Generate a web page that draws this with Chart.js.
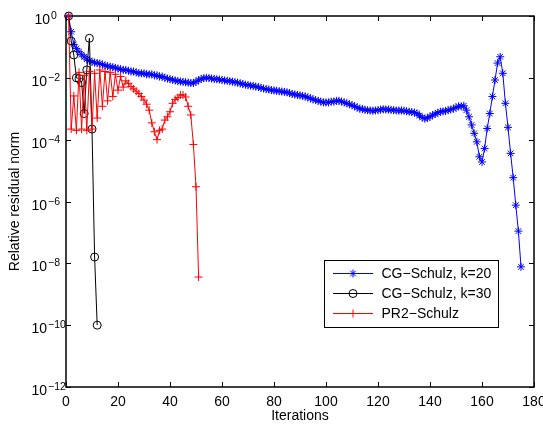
<!DOCTYPE html>
<html><head><meta charset="utf-8">
<script src="https://cdn.jsdelivr.net/npm/chart.js@4/dist/chart.umd.min.js"></script>
<style>html,body{margin:0;padding:0;background:#fff;overflow:hidden}</style>
</head><body>
<canvas id="c" width="543" height="427" style="display:block;width:543px;height:427px"></canvas>
<script>
// ---- data ----
const seriesLabels = ['CG\u2212Schulz, k=20', 'CG\u2212Schulz, k=30', 'PR2\u2212Schulz'];

const blueValues = [
  1, 0.31, 0.12, 0.088, 0.07, 0.056, 0.048, 0.04, 0.036, 0.033,
  0.031, 0.03, 0.029, 0.027, 0.025, 0.024, 0.023, 0.022, 0.021, 0.02,
  0.019, 0.018, 0.018, 0.017, 0.016, 0.016, 0.015, 0.014, 0.014, 0.014,
  0.013, 0.013, 0.013, 0.012, 0.012, 0.011, 0.011, 0.010, 0.0095, 0.009,
  0.0086, 0.0082, 0.0078, 0.0076, 0.0074, 0.0072, 0.007, 0.0068, 0.0068, 0.0075,
  0.0085, 0.0092, 0.0098, 0.01, 0.0098, 0.0095, 0.0092, 0.009, 0.0088, 0.0085,
  0.0082, 0.008, 0.0078, 0.0075, 0.0072, 0.007, 0.0066, 0.0063, 0.006, 0.0058,
  0.0056, 0.0055, 0.0052, 0.005, 0.0047, 0.0045, 0.0043, 0.0042, 0.004, 0.0039,
  0.0038, 0.0037, 0.0036, 0.0035, 0.0034, 0.0032, 0.003, 0.0029, 0.0028, 0.0027,
  0.0026, 0.0025, 0.0023, 0.0022, 0.002, 0.0019, 0.0018, 0.0017, 0.0016, 0.0016,
  0.0016, 0.0017, 0.0017, 0.0018, 0.0018, 0.0017, 0.0016, 0.0015, 0.0014, 0.0013,
  0.0012, 0.0011, 0.001, 0.00098, 0.00092, 0.0009, 0.00088, 0.00086, 0.00088, 0.0009,
  0.00094, 0.00096, 0.00095, 0.00094, 0.00092, 0.0009, 0.00088, 0.00087, 0.00088, 0.00086,
  0.00083, 0.0008, 0.00078, 0.00075, 0.0007, 0.0006, 0.00052, 0.00048, 0.0005, 0.00056,
  0.00062, 0.00068, 0.00074, 0.0008, 0.00082, 0.00085, 0.0009, 0.00095, 0.001, 0.0011,
  0.0012, 0.0012, 0.00125, 0.0009, 0.00055, 0.0003, 0.00016, 0.000085, 0.000028, 0.000019,
  0.000052, 0.00023, 0.0007, 0.0025, 0.0085, 0.03, 0.048, 0.014, 0.0015, 0.00025,
  0.000036, 0.0000059, 0.00000076, 0.00000011, 0.0000000077
];

const blackValues = [1, 0.155, 0.055, 0.01, 0.0095, 0.007, 0.0007, 0.018, 0.19, 0.00022, 1.6e-8, 1e-10];

const redValues = [
  1, 2.2e-4, 2.6e-3, 2.0e-4, 1.5e-2, 2.2e-4, 1.2e-2, 2.0e-4, 1.6e-2, 2.2e-4,
  1.4e-2, 5e-4, 1.8e-2, 1.2e-3, 1.6e-2, 1.8e-3, 1.5e-2, 2.5e-3, 1.3e-2, 4e-3,
  1.1e-2, 5e-3, 8e-3, 6.5e-3, 5.2e-3, 4.4e-3, 3.7e-3, 3.1e-3, 2.5e-3, 1.9e-3,
  1.4e-3, 9e-4, 3.5e-4, 1.8e-4, 1e-4, 2e-4, 2.2e-4, 4.3e-4, 5.5e-4, 8e-4,
  1.5e-3, 2e-3, 2.3e-3, 2.8e-3, 2.8e-3, 2.4e-3, 1.2e-3, 6.3e-4, 7e-5, 3e-6,
  3.6e-9
];

const xTicks = [0, 20, 40, 60, 80, 100, 120, 140, 160, 180];
const xTickLabels = ['0', '20', '40', '60', '80', '100', '120', '140', '160', '180'];
const yTicks = [1, 1e-2, 1e-4, 1e-6, 1e-8, 1e-10, 1e-12];
const yTickExponents = ['0', '\u22122', '\u22124', '\u22126', '\u22128', '\u221210', '\u221212'];

// ---- helpers ----
const FONT = '"Liberation Sans", Arial, Helvetica, sans-serif';
const toXY = vals => vals.map((v, i) => ({x: i + 1, y: v}));

function drawMarker(ctx, style, x, y, r, color) {
  ctx.save();
  ctx.strokeStyle = color; ctx.lineWidth = 1;
  ctx.beginPath();
  if (style === 'circle') {
    ctx.arc(x, y, r, 0, Math.PI * 2);
  } else if (style === 'cross') {
    ctx.moveTo(x - r, y); ctx.lineTo(x + r, y);
    ctx.moveTo(x, y - r); ctx.lineTo(x, y + r);
  } else if (style === 'star') {
    ctx.moveTo(x - r, y); ctx.lineTo(x + r, y);
    ctx.moveTo(x, y - r); ctx.lineTo(x, y + r);
    const d = r * Math.SQRT1_2;
    ctx.moveTo(x - d, y - d); ctx.lineTo(x + d, y + d);
    ctx.moveTo(x - d, y + d); ctx.lineTo(x + d, y - d);
  }
  ctx.stroke();
  ctx.restore();
}

const framePlugin = {
  id: 'frame',
  beforeDatasetsDraw(chart) {
    const {ctx, chartArea: {left, right, top, bottom}, scales: {x, y}} = chart;
    ctx.save();
    ctx.strokeStyle = '#000';
    ctx.lineWidth = 1;
    ctx.beginPath();
    xTicks.forEach(v => {
      const px = Math.round(x.getPixelForValue(v)) + 0.5;
      ctx.moveTo(px, bottom); ctx.lineTo(px, bottom - 5);
      ctx.moveTo(px, top); ctx.lineTo(px, top + 5);
    });
    yTicks.forEach(v => {
      const py = Math.round(y.getPixelForValue(v)) + 0.5;
      ctx.moveTo(left, py); ctx.lineTo(left + 5, py);
      ctx.moveTo(right, py); ctx.lineTo(right - 5, py);
    });
    ctx.stroke();
    ctx.lineWidth = 1.5;
    ctx.strokeRect(left, top, right - left, bottom - top);
    ctx.fillStyle = '#000';
    ctx.font = '14px ' + FONT;
    ctx.textAlign = 'center';
    ctx.textBaseline = 'alphabetic';
    xTicks.forEach((v, i) => ctx.fillText(xTickLabels[i], x.getPixelForValue(v), bottom + 19));
    yTicks.forEach((v, i) => {
      const py = y.getPixelForValue(v);
      const exp = yTickExponents[i];
      const baseRight = exp === '0' ? 50 : 47;
      ctx.font = '14px ' + FONT;
      ctx.textAlign = 'right';
      ctx.fillText('10', baseRight, py + 8);
      ctx.font = '10.5px ' + FONT;
      ctx.textAlign = 'left';
      ctx.fillText(exp, baseRight + 1, py + 3);
    });
    ctx.restore();
  },
  afterDraw(chart) {
    const {ctx} = chart;
    const bx = 324, by = 260, bw = 174, bh = 67;
    ctx.save();
    ctx.fillStyle = '#fff';
    ctx.fillRect(bx, by, bw, bh);
    ctx.strokeStyle = '#000';
    ctx.lineWidth = 1;
    ctx.strokeRect(bx + 0.5, by + 0.5, bw, bh);
    ctx.font = '14px ' + FONT;
    ctx.textBaseline = 'middle';
    ctx.textAlign = 'left';
    chart.data.datasets.forEach((ds, i) => {
      const yy = by + 13 + i * 20;
      ctx.strokeStyle = ds.borderColor;
      ctx.lineWidth = 1;
      ctx.beginPath();
      ctx.moveTo(333, yy + 0.5); ctx.lineTo(373, yy + 0.5);
      ctx.stroke();
      drawMarker(ctx, ds.pointStyle, 353, yy + 0.5, ds.pointRadius, ds.pointBorderColor);
      ctx.fillStyle = '#000';
      ctx.fillText(ds.label, 381.5, yy + 1);
    });
    ctx.restore();
  }
};

new Chart(document.getElementById('c'), {
  type: 'line',
  data: {
    datasets: [
      {label: seriesLabels[0], data: toXY(blueValues), borderColor: '#0000ff', backgroundColor: '#0000ff',
       borderWidth: 1, pointStyle: 'star', pointRadius: 4, pointBorderWidth: 1, pointBorderColor: '#0000ff',
       pointBackgroundColor: '#0000ff', order: 3, clip: false, tension: 0, fill: false},
      {label: seriesLabels[1], data: toXY(blackValues), borderColor: '#000000', backgroundColor: 'rgba(0,0,0,0)',
       borderWidth: 1, pointStyle: 'circle', pointRadius: 4, pointBorderWidth: 1, pointBorderColor: '#000000',
       pointBackgroundColor: 'rgba(0,0,0,0)', order: 2, clip: false, tension: 0, fill: false},
      {label: seriesLabels[2], data: toXY(redValues), borderColor: '#ff0000', backgroundColor: '#ff0000',
       borderWidth: 1, pointStyle: 'cross', pointRadius: 4, pointBorderWidth: 1, pointBorderColor: '#ff0000',
       pointBackgroundColor: '#ff0000', order: 1, clip: false, tension: 0, fill: false}
    ]
  },
  options: {
    responsive: false,
    devicePixelRatio: 1,
    animation: false,
    events: [],
    layout: {padding: {top: 16, right: 9, left: 0, bottom: 0}},
    plugins: {legend: {display: false}, tooltip: {enabled: false}},
    scales: {
      x: {
        type: 'linear', min: 0, max: 180,
        grid: {display: false}, border: {display: false},
        ticks: {display: false},
        afterBuildTicks: s => { s.ticks = xTicks.map(v => ({value: v})); },
        afterFit: s => { s.height = 40; },
        title: {display: true, text: 'Iterations', color: '#000',
                font: {family: FONT, size: 14}, padding: {top: 0, bottom: 2}}
      },
      y: {
        type: 'logarithmic', min: 1e-12, max: 1,
        grid: {display: false}, border: {display: false},
        ticks: {display: false},
        afterBuildTicks: s => { s.ticks = yTicks.map(v => ({value: v})); },
        afterFit: s => { s.width = 66; },
        title: {display: true, text: 'Relative residual norm', color: '#000',
                font: {family: FONT, size: 14}, padding: {top: 7, bottom: 0}}
      }
    }
  },
  plugins: [framePlugin]
});
</script>
</body></html>
